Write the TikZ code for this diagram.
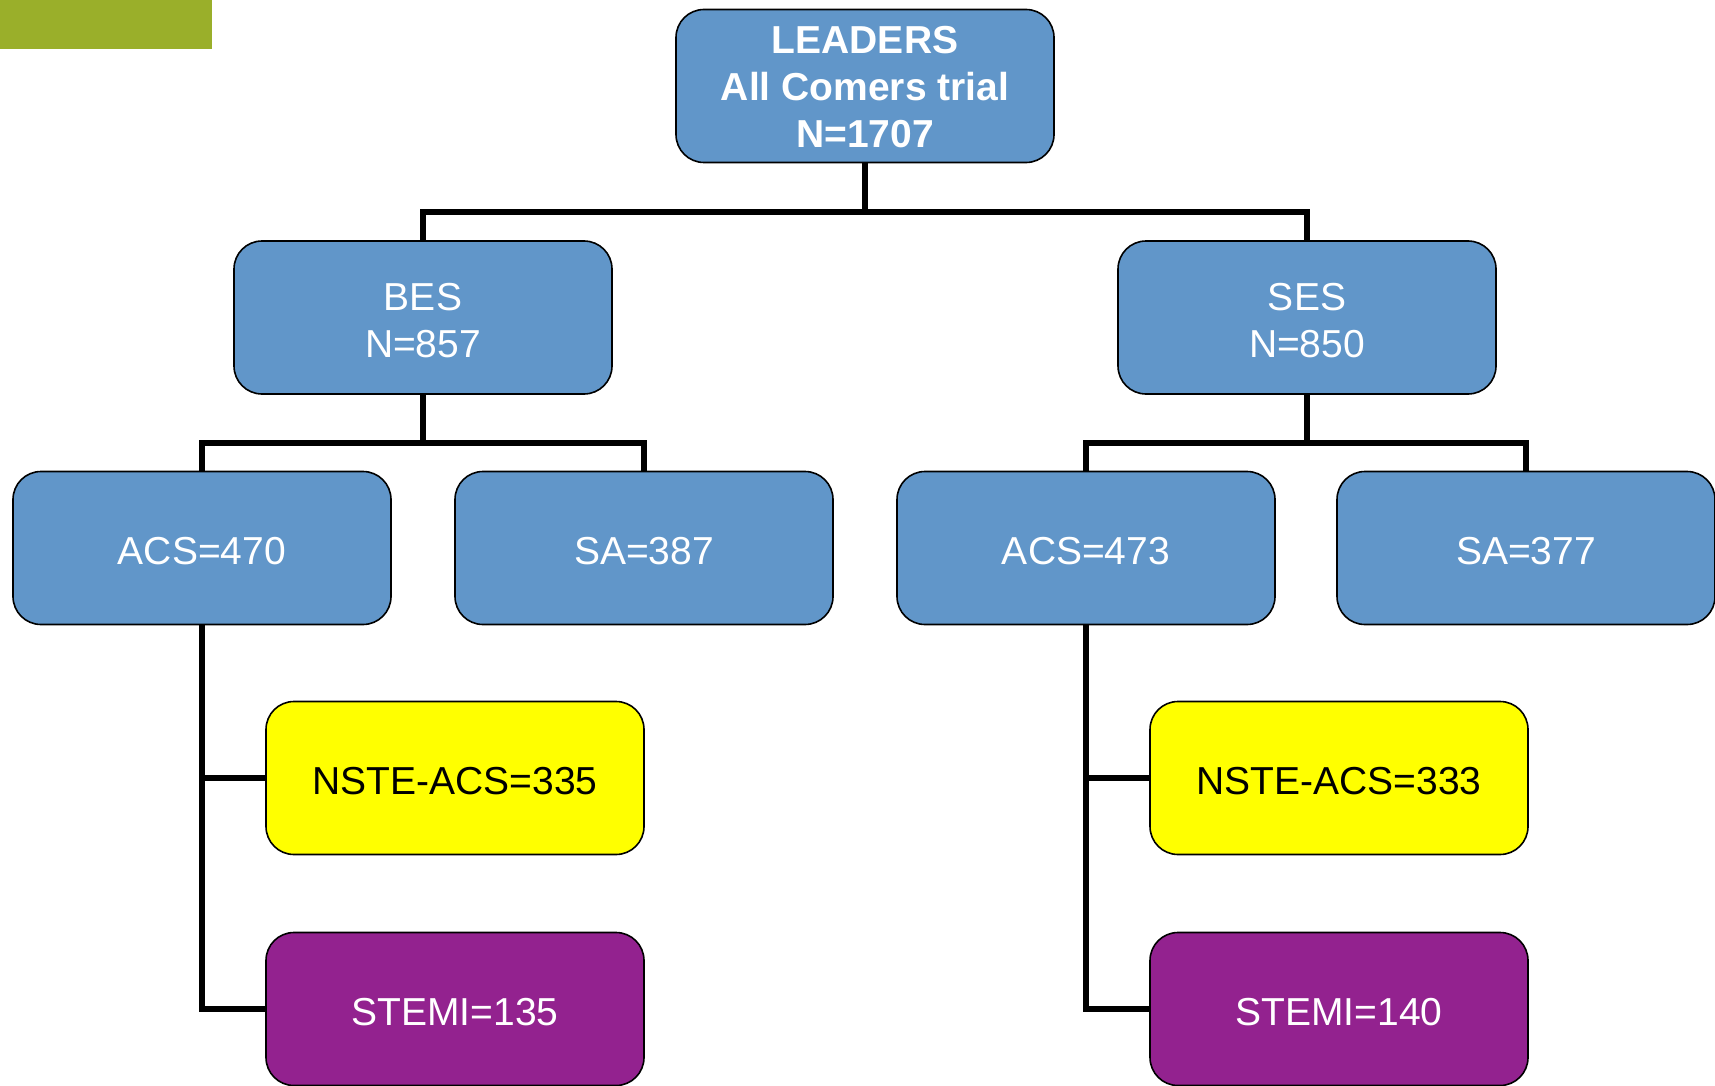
\documentclass[tikz,border=0pt]{standalone}
\usepackage{fontspec}
\setmainfont{Liberation Sans}
\definecolor{boxblue}{HTML}{6196C9}
\definecolor{boxpurple}{HTML}{93228F}
\definecolor{boxyellow}{HTML}{FFFF00}
\definecolor{barGreen}{HTML}{9AAF2A}
\begin{document}
\begin{tikzpicture}[x=1pt,y=-1pt,
  box/.style={draw=black,line width=1.6pt,rounded corners=28pt,minimum width=378pt,minimum height=153pt,
    inner sep=0pt,fill=boxblue},
  lbl/.style={align=center,font=\fontsize{39}{47}\selectfont,text=white,yshift=-3pt,inner sep=0pt},
  ylbl/.style={lbl,text=black},
  blbl/.style={lbl,font=\fontsize{39}{47}\selectfont\bfseries,yshift=1.5pt},
  ybox/.style={box,fill=boxyellow},
  pbox/.style={box,fill=boxpurple},
  link/.style={line width=6pt}]
\useasboundingbox (0,0) rectangle (1715,1086);
\fill[barGreen] (0,0) rectangle (212,49);
\node[box,label={[blbl]center:LEADERS\\All Comers trial\\N=1707}] (top) at (865,86) {};
\node[box,label={[lbl]center:BES\\N=857}] (bes) at (423,317.5) {};
\node[box,label={[lbl]center:SES\\N=850}] (ses) at (1307,317.5) {};
\node[box,label={[lbl]center:ACS=470}] (acsA) at (202,548) {};
\node[box,label={[lbl]center:SA=387}] (saA) at (644,548) {};
\node[box,label={[lbl]center:ACS=473}] (acsB) at (1086,548) {};
\node[box,label={[lbl]center:SA=377}] (saB) at (1526,548) {};
\node[ybox,label={[ylbl]center:NSTE-ACS=335}] (nsteA) at (455,778) {};
\node[ybox,label={[ylbl]center:NSTE-ACS=333}] (nsteB) at (1339,778) {};
\node[pbox,label={[lbl]center:STEMI=135}] (stemiA) at (455,1009) {};
\node[pbox,label={[lbl]center:STEMI=140}] (stemiB) at (1339,1009) {};
\coordinate (j1) at (865,212);
\coordinate (j2) at (423,443);
\coordinate (j3) at (1307,443);
\draw[link] (top.south) -- (j1) -| (bes.north);
\draw[link] (j1) -| (ses.north);
\draw[link] (bes.south) -- (j2) -| (acsA.north);
\draw[link] (j2) -| (saA.north);
\draw[link] (ses.south) -- (j3) -| (acsB.north);
\draw[link] (j3) -| (saB.north);
\draw[link] (acsA.south) |- (nsteA.west);
\draw[link] (acsA.south) |- (stemiA.west);
\draw[link] (acsB.south) |- (nsteB.west);
\draw[link] (acsB.south) |- (stemiB.west);
\end{tikzpicture}
\end{document}
